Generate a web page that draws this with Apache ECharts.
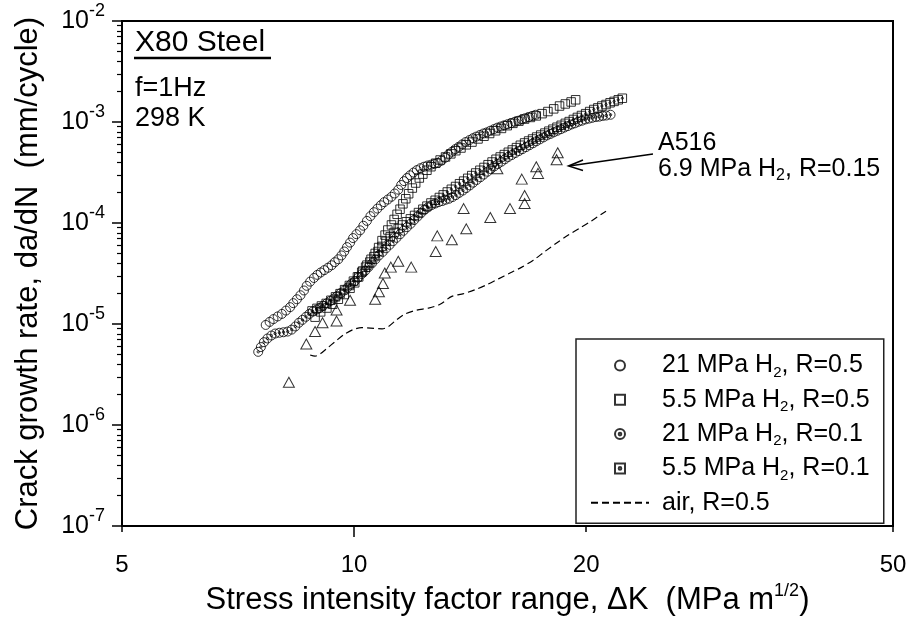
<!DOCTYPE html>
<html><head><meta charset="utf-8">
<script src="https://cdn.jsdelivr.net/npm/echarts@6/dist/echarts.min.js"></script>
<style>html,body{margin:0;padding:0;background:#fff}#c{width:911px;height:624px}</style>
</head><body><div id="c"></div><script>
// ---- data: [deltaK (MPa m^1/2), da/dN (mm/cycle)] ----
const h21R05 = [[7.68,9.8e-6],[7.77,1.05e-5],[7.86,1.12e-5],[7.96,1.19e-5],[8.06,1.26e-5],[8.16,1.36e-5],[8.26,1.47e-5],[8.34,1.61e-5],[8.43,1.76e-5],[8.52,1.93e-5],[8.61,2.15e-5],[8.68,2.39e-5],[8.77,2.63e-5],[8.87,2.86e-5],[8.96,3.07e-5],[9.05,3.24e-5],[9.15,3.42e-5],[9.25,3.61e-5],[9.35,3.82e-5],[9.44,4.10e-5],[9.54,4.38e-5],[9.63,4.78e-5],[9.71,5.23e-5],[9.79,5.78e-5],[9.88,6.4e-5],[9.97,7.1e-5],[10.07,7.76e-5],[10.18,8.47e-5],[10.28,9.4e-5],[10.39,1.05e-4],[10.50,1.17e-4],[10.61,1.28e-4],[10.72,1.39e-4],[10.83,1.50e-4],[10.94,1.61e-4],[11.06,1.71e-4],[11.18,1.82e-4],[11.29,1.96e-4],[11.41,2.14e-4],[11.51,2.38e-4],[11.61,2.60e-4],[11.71,2.79e-4],[11.82,2.97e-4],[11.94,3.16e-4],[12.06,3.34e-4],[12.19,3.49e-4],[12.32,3.61e-4],[12.45,3.71e-4],[12.58,3.78e-4],[12.71,3.85e-4],[12.84,3.95e-4],[12.98,4.14e-4],[13.12,4.43e-4],[13.25,4.76e-4],[13.39,5.07e-4],[13.53,5.39e-4],[13.67,5.69e-4],[13.81,6.0e-4],[13.95,6.33e-4],[14.11,6.62e-4],[14.26,6.92e-4],[14.40,7.17e-4],[14.56,7.44e-4],[14.71,7.70e-4],[14.86,7.90e-4],[15.02,8.20e-4],[15.18,8.50e-4],[15.34,8.80e-4],[15.50,9.03e-4],[15.66,9.27e-4],[15.82,9.52e-4],[15.99,9.78e-4],[16.16,1.005e-3],[16.33,1.03e-3],[16.50,1.06e-3],[16.67,1.09e-3],[16.85,1.12e-3],[17.02,1.15e-3],[17.20,1.18e-3]];
const h55R05 = [[8.90,1.17e-5],[9.05,1.32e-5],[9.22,1.44e-5],[9.38,1.57e-5],[9.54,1.76e-5],[9.71,1.96e-5],[9.88,2.26e-5],[10.02,2.56e-5],[10.14,2.93e-5],[10.26,3.35e-5],[10.39,3.83e-5],[10.52,4.38e-5],[10.65,5.0e-5],[10.76,5.72e-5],[10.87,6.7e-5],[10.97,7.6e-5],[11.06,8.53e-5],[11.18,9.57e-5],[11.27,1.085e-4],[11.37,1.22e-4],[11.47,1.37e-4],[11.57,1.55e-4],[11.67,1.74e-4],[11.77,1.95e-4],[11.90,2.22e-4],[12.02,2.49e-4],[12.15,2.79e-4],[12.28,3.05e-4],[12.43,3.33e-4],[12.58,3.61e-4],[12.76,3.91e-4],[12.93,4.21e-4],[13.14,4.51e-4],[13.35,4.84e-4],[13.55,5.2e-4],[13.76,5.53e-4],[13.98,5.95e-4],[14.22,6.33e-4],[14.48,6.8e-4],[14.74,7.23e-4],[14.99,7.70e-4],[15.26,8.19e-4],[15.53,8.64e-4],[15.80,9.20e-4],[16.07,9.7e-4],[16.36,1.02e-3],[16.64,1.07e-3],[16.93,1.11e-3],[17.23,1.15e-3],[17.53,1.21e-3],[17.84,1.27e-3],[18.15,1.35e-3],[18.47,1.44e-3],[18.79,1.51e-3],[19.12,1.58e-3],[19.38,1.66e-3]];
const h21R01 = [[7.51,5.31e-6],[7.57,5.92e-6],[7.64,6.62e-6],[7.72,7.2e-6],[7.81,7.7e-6],[7.90,8.06e-6],[8.00,8.2e-6],[8.10,8.3e-6],[8.20,8.43e-6],[8.30,8.81e-6],[8.39,9.46e-6],[8.48,1.03e-5],[8.57,1.10e-5],[8.66,1.18e-5],[8.75,1.26e-5],[8.84,1.33e-5],[8.94,1.39e-5],[9.03,1.45e-5],[9.12,1.52e-5],[9.22,1.61e-5],[9.31,1.69e-5],[9.41,1.79e-5],[9.51,1.90e-5],[9.61,2.03e-5],[9.71,2.15e-5],[9.81,2.31e-5],[9.91,2.49e-5],[10.02,2.66e-5],[10.12,2.88e-5],[10.23,3.13e-5],[10.34,3.38e-5],[10.44,3.66e-5],[10.55,4.0e-5],[10.66,4.38e-5],[10.77,4.78e-5],[10.89,5.18e-5],[11.00,5.62e-5],[11.12,6.09e-5],[11.23,6.6e-5],[11.35,7.14e-5],[11.47,7.74e-5],[11.59,8.39e-5],[11.71,9.09e-5],[11.84,9.84e-5],[11.96,1.07e-4],[12.09,1.16e-4],[12.21,1.25e-4],[12.34,1.35e-4],[12.47,1.43e-4],[12.61,1.51e-4],[12.74,1.56e-4],[12.87,1.61e-4],[13.01,1.65e-4],[13.14,1.70e-4],[13.28,1.74e-4],[13.42,1.81e-4],[13.55,1.89e-4],[13.69,1.99e-4],[13.84,2.10e-4],[13.98,2.22e-4],[14.13,2.36e-4],[14.27,2.51e-4],[14.42,2.67e-4],[14.58,2.84e-4],[14.73,3.02e-4],[14.89,3.22e-4],[15.04,3.42e-4],[15.20,3.64e-4],[15.36,3.84e-4],[15.53,4.05e-4],[15.69,4.28e-4],[15.85,4.51e-4],[16.02,4.72e-4],[16.19,4.94e-4],[16.36,5.16e-4],[16.53,5.39e-4],[16.71,5.64e-4],[16.88,5.89e-4],[17.06,6.16e-4],[17.23,6.44e-4],[17.41,6.73e-4],[17.60,7.04e-4],[17.78,7.36e-4],[17.97,7.62e-4],[18.15,7.90e-4],[18.35,8.19e-4],[18.54,8.49e-4],[18.73,8.80e-4],[18.93,9.11e-4],[19.13,9.45e-4],[19.33,9.70e-4],[19.53,1.005e-3],[19.74,1.03e-3],[19.94,1.06e-3],[20.15,1.08e-3],[20.36,1.10e-3],[20.58,1.12e-3],[20.79,1.13e-3],[21.01,1.15e-3],[21.23,1.16e-3],[21.51,1.18e-3]];
const h55R01 = [[8.82,1.35e-5],[8.95,1.43e-5],[9.07,1.51e-5],[9.20,1.60e-5],[9.33,1.72e-5],[9.46,1.86e-5],[9.59,2.0e-5],[9.72,2.19e-5],[9.86,2.41e-5],[9.98,2.66e-5],[10.10,2.93e-5],[10.23,3.26e-5],[10.35,3.66e-5],[10.48,4.11e-5],[10.61,4.65e-5],[10.74,5.23e-5],[10.87,5.87e-5],[11.00,6.59e-5],[11.14,7.33e-5],[11.27,8.08e-5],[11.41,8.84e-5],[11.55,9.58e-5],[11.69,1.03e-4],[11.83,1.10e-4],[11.98,1.19e-4],[12.12,1.27e-4],[12.28,1.37e-4],[12.43,1.47e-4],[12.58,1.58e-4],[12.74,1.68e-4],[12.90,1.79e-4],[13.05,1.90e-4],[13.21,2.03e-4],[13.37,2.16e-4],[13.54,2.30e-4],[13.70,2.45e-4],[13.87,2.60e-4],[14.04,2.77e-4],[14.21,2.95e-4],[14.38,3.13e-4],[14.56,3.33e-4],[14.74,3.55e-4],[14.92,3.78e-4],[15.10,4.02e-4],[15.28,4.28e-4],[15.47,4.51e-4],[15.66,4.76e-4],[15.85,5.02e-4],[16.04,5.29e-4],[16.24,5.58e-4],[16.43,5.89e-4],[16.64,6.21e-4],[16.84,6.49e-4],[17.04,6.79e-4],[17.25,7.10e-4],[17.46,7.43e-4],[17.68,7.77e-4],[17.89,8.12e-4],[18.11,8.49e-4],[18.33,8.88e-4],[18.56,9.28e-4],[18.79,9.70e-4],[19.01,1.01e-3],[19.25,1.06e-3],[19.48,1.11e-3],[19.72,1.16e-3],[19.97,1.21e-3],[20.21,1.27e-3],[20.46,1.33e-3],[20.71,1.38e-3],[20.96,1.44e-3],[21.22,1.49e-3],[21.48,1.55e-3],[21.74,1.60e-3],[22.01,1.66e-3],[22.28,1.72e-3]];
const a516 = [[8.23,2.65e-6],[8.67,6.34e-6],[8.90,8.43e-6],[9.10,1.03e-5],[9.49,1.375e-5],[9.49,1.07e-5],[9.88,1.72e-5],[10.65,1.76e-5],[10.77,2.09e-5],[10.90,2.52e-5],[10.96,3.2e-5],[11.16,3.66e-5],[11.41,4.18e-5],[11.86,3.66e-5],[12.76,5.23e-5],[12.82,7.46e-5],[13.39,6.83e-5],[13.98,8.76e-5],[13.87,1.39e-4],[15.02,1.135e-4],[15.34,3.45e-4],[15.93,1.39e-4],[16.50,2.72e-4],[16.64,1.56e-4],[16.64,1.87e-4],[17.23,3.61e-4],[17.32,3.10e-4],[18.31,4.24e-4],[18.37,4.97e-4]];
const airR05 = [[8.77,4.94e-6],[8.90,4.81e-6],[9.05,5.1e-6],[9.22,5.73e-6],[9.46,6.75e-6],[9.71,7.9e-6],[9.97,8.81e-6],[10.23,9.21e-6],[10.50,9.13e-6],[10.87,8.97e-6],[11.08,9.46e-6],[11.35,1.10e-5],[11.65,1.26e-5],[12.06,1.375e-5],[12.49,1.44e-5],[12.93,1.57e-5],[13.39,1.88e-5],[13.87,2.0e-5],[14.36,2.19e-5],[14.86,2.45e-5],[15.39,2.8e-5],[15.93,3.20e-5],[16.50,3.66e-5],[17.08,4.29e-5],[17.68,5.23e-5],[18.31,6.36e-5],[18.96,7.6e-5],[19.63,8.92e-5],[20.32,1.05e-4],[21.22,1.31e-4]];

const seriesNames = ['21 MPa H2, R=0.5','5.5 MPa H2, R=0.5','21 MPa H2, R=0.1','5.5 MPa H2, R=0.1','air, R=0.5'];
const xTickValues = [5,10,20,50];
const yTickPowers = [-7,-6,-5,-4,-3,-2];

// ---- presentation ----
const FONT = "'Liberation Sans', Arial, sans-serif";
const SQ = 'path://M-10,-10L10,-10L10,10L-10,10Z';
const CDOT = 'path://M10,0A10,10,0,1,1,-10,0A10,10,0,1,1,10,0ZM2.6,0A2.6,2.6,0,1,1,-2.6,0A2.6,2.6,0,1,1,2.6,0Z';
const SDOT = 'path://M-10,-10L10,-10L10,10L-10,10ZM2.6,0A2.6,2.6,0,1,1,-2.6,0A2.6,2.6,0,1,1,2.6,0Z';
const yTickValues = yTickPowers.map(p => Math.pow(10, p));
const yMinor = [];
for (let p = -7; p < -2; p++) for (let m = 2; m <= 9; m++) yMinor.push(m * Math.pow(10, p));
const markStyle = {color: 'rgba(0,0,0,0)', borderColor: '#000', borderWidth: 1};

const chart = echarts.init(document.getElementById('c'));
chart.setOption({
  animation: false,
  grid: {left: 122, right: 18, top: 21, bottom: 90, show: true, borderColor: '#000', borderWidth: 2, backgroundColor: 'rgba(0,0,0,0)'},
  xAxis: [{
    type: 'log', logBase: 10, min: 5, max: 50, position: 'bottom',
    axisLine: {show: true, lineStyle: {color: '#000', width: 2}},
    axisTick: {show: true, customValues: [10], length: 11, lineStyle: {color: '#000', width: 1.5}},
    axisLabel: {customValues: xTickValues, fontSize: 24, color: '#000', fontFamily: FONT, margin: 27},
    splitLine: {show: false},
    name: 'Stress intensity factor range, \u0394K  (MPa m{sup|1/2})',
    nameLocation: 'middle', nameGap: 54,
    nameTextStyle: {fontSize: 31, color: '#000', fontFamily: FONT, lineHeight: 37,
      rich: {sup: {fontSize: 18, lineHeight: 18, padding: [0, 0, 19, 0], verticalAlign: 'top', fontFamily: FONT, color: '#000'}}}
  }, {
    type: 'log', logBase: 10, min: 5, max: 50, position: 'bottom',
    axisLine: {show: false},
    axisTick: {show: true, customValues: [5, 20, 50], length: 6, lineStyle: {color: '#000', width: 1.5}},
    axisLabel: {show: false}, splitLine: {show: false}
  }],
  yAxis: [{
    type: 'log', logBase: 10, min: 1e-7, max: 1e-2, position: 'left',
    axisLine: {show: true, lineStyle: {color: '#000', width: 2}},
    axisTick: {show: true, customValues: yTickValues, length: 10, lineStyle: {color: '#000', width: 1.5}},
    axisLabel: {customValues: yTickValues, margin: 17, color: '#000', fontSize: 25, fontFamily: FONT, lineHeight: 38,
      formatter: v => '10{sup|' + yTickPowers[yTickValues.findIndex(t => Math.abs(Math.log10(t / v)) < 1e-6)] + '}',
      rich: {sup: {fontSize: 18, lineHeight: 18, padding: [0, 0, 20, 0], verticalAlign: 'top', fontFamily: FONT, color: '#000'}}},
    splitLine: {show: false},
    name: 'Crack growth rate, da/dN  (mm/cycle)', nameLocation: 'middle', nameGap: 78,
    nameTextStyle: {fontSize: 31, color: '#000', fontFamily: FONT}
  }, {
    type: 'log', logBase: 10, min: 1e-7, max: 1e-2, position: 'left',
    axisLine: {show: false},
    axisTick: {show: true, customValues: yMinor, length: 5, lineStyle: {color: '#000', width: 1.2}},
    axisLabel: {show: false}, splitLine: {show: false}
  }],
  legend: {
    orient: 'vertical', left: 576, top: 339, padding: [12, 14, 6, 14],
    itemWidth: 58, itemHeight: 10, itemGap: 5.3,
    borderColor: '#222', borderWidth: 1.5, backgroundColor: '#fff',
    formatter: n => n.replace('H2', 'H{sub|2}'),
    textStyle: {fontSize: 25, color: '#000', fontFamily: FONT, lineHeight: 29, padding: [0, 0, 0, 8],
      rich: {sub: {fontSize: 15, lineHeight: 15, padding: [14, 0, 0, 0], verticalAlign: 'bottom', fontFamily: FONT, color: '#000'}}},
    data: [
      {name: seriesNames[0], icon: 'circle'},
      {name: seriesNames[1], icon: SQ},
      {name: seriesNames[2], icon: CDOT},
      {name: seriesNames[3], icon: SDOT},
      {name: seriesNames[4], itemStyle: {color: 'rgba(0,0,0,0)', borderWidth: 0, opacity: 0}}
    ]
  },
  graphic: [
    {type: 'text', x: 135, y: 43, style: {text: 'X80 Steel', fontSize: 30, fontFamily: FONT, fill: '#000', verticalAlign: 'middle'}},
    {type: 'line', shape: {x1: 134, y1: 58, x2: 271, y2: 58}, style: {stroke: '#000', lineWidth: 2.5}},
    {type: 'text', x: 135, y: 89, style: {text: 'f=1Hz', fontSize: 27, fontFamily: FONT, fill: '#000', verticalAlign: 'middle'}},
    {type: 'text', x: 135, y: 119, style: {text: '298 K', fontSize: 27, fontFamily: FONT, fill: '#000', verticalAlign: 'middle'}},
    {type: 'text', x: 658, y: 143, style: {text: 'A516', fontSize: 25, fontFamily: FONT, fill: '#000', verticalAlign: 'middle'}},
    {type: 'text', x: 658, y: 169, style: {text: '6.9 MPa H{sub|2}, R=0.15', fontSize: 25, fontFamily: FONT, fill: '#000', verticalAlign: 'middle', lineHeight: 30,
      rich: {sub: {fontSize: 16, lineHeight: 16, padding: [14, 0, 0, 0], verticalAlign: 'bottom', fontFamily: FONT, fill: '#000'}}}},
    {type: 'line', shape: {x1: 653, y1: 154, x2: 569, y2: 166}, style: {stroke: '#000', lineWidth: 1.5}},
    {type: 'polyline', shape: {points: [[583, 160], [568.5, 166], [583, 170.5]]}, style: {stroke: '#000', lineWidth: 1.5, fill: null}}
  ],
  series: [
    {type: 'scatter', name: seriesNames[0], data: h21R05, symbol: 'circle', symbolSize: 9, itemStyle: markStyle},
    {type: 'scatter', name: seriesNames[1], data: h55R05, symbol: SQ, symbolSize: 8.5, itemStyle: markStyle},
    {type: 'scatter', name: seriesNames[2], data: h21R01, symbol: CDOT, symbolSize: 9, itemStyle: markStyle},
    {type: 'scatter', name: seriesNames[3], data: h55R01, symbol: SDOT, symbolSize: 8.5, itemStyle: markStyle},
    {type: 'scatter', name: 'A516 6.9 MPa H2, R=0.15', data: a516, symbol: 'triangle', symbolSize: [11, 10], itemStyle: markStyle},
    {type: 'line', name: seriesNames[4], data: airR05, smooth: 0.3, symbol: 'none', showSymbol: false,
      lineStyle: {color: '#000', width: 1.2, type: [7, 4]}}
  ]
});
</script></body></html>
